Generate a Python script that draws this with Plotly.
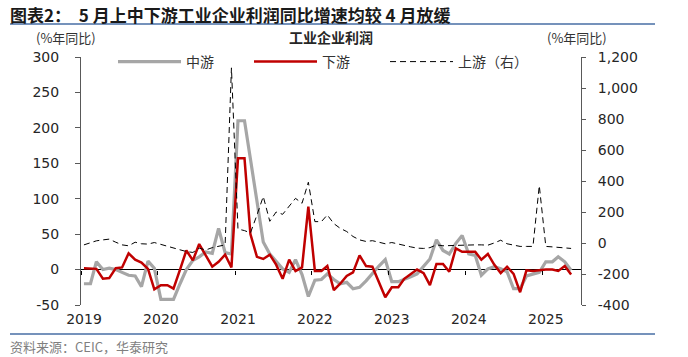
import plotly.graph_objects as go

# ---------------- data ----------------
months = [f"{y}-{m:02d}-15" for y in range(2019, 2026) for m in range(1, 13)][:77]

midstream = [-20, -20, 11, 0, 2, 0, -4, -8, -9, -24, 12, 2,
             -42, -42, -42, -20, 0, 13, 18, 25, 23, 58, 24, 22,
             210, 210, 155, 95, 39, 22, 11, 1, -4, 14, -7, -38,
             -15, -14, -6, -14, -20, -18, -27, -25, -16, -5, 5, 14,
             -17, -17, -14, -10, -6, 5, 15, 42, 27, 22, 37, 48,
             22, 20, -8, 1, 4, 1, -3, -27, -27, -9, -7, -4,
             11, 11, 18, 11, -1]

downstream = [2, 2, 1, -13, -12, 2, 3, 23, 14, 10, 1, -28,
              -22, -22, -27, 0, 27, 13, 36, 20, 4, 11, 21, 3,
              157, 157, 50, 18, 15, 21, 7, -13, 14, -2, 3, 89,
              -2, -2, 5, -29, -20, -9, -4, 20, 5, 4, -17, -39,
              -25, -25, -13, -6, 0, -5, -22, 8, 8, -3, 30, 25,
              25, 25, 14, 22, 7, -5, 4, -6, -32, -1, -2, -1,
              0, 0, -2, 5, -7]

upstream = [-12, 0, 14, 20, 25, 5, -12, -18, 5, -5, -7, 3,
            -10, -22, -35, -44, -55, -61, -33, -45, -30, -22, -12, 1130,
            90, 80, 65, 180, 300, 140, 200, 185, 240, 288, 256, 392,
            138, 138, 181, 125, 95, 74, 42, 20, 10, 15, 5, -5,
            3, -8, -15, -25, -33, -35, -30, -12, -18, -16, -15, -14,
            -13, -12, -12, -14, 0, 18, -5, -12, -22, -22, -22, 370,
            -22, -25, -27, -30, -35]

year_ticks = [f"{y}-01-01" for y in range(2019, 2026)]
year_labels = [str(y) for y in range(2019, 2026)]

left_vals = [-50, 0, 50, 100, 150, 200, 250, 300]
left_text = ["-50", "0", "50", "100", "150", "200", "250", "300"]
right_vals = [-400, -200, 0, 200, 400, 600, 800, 1000, 1200]
right_text = ["-400", "-200", "0", "200", "400", "600", "800", "1,000", "1,200"]

series_names = ["中游", "下游", "上游（右）"]
title_text = "图表2：  5 月上中下游工业企业利润同比增速均较 4 月放缓"
chart_title = "工业企业利润"
unit_text = "(%年同比)"
source_text = "资料来源：CEIC，华泰研究"

# ---------------- layout helpers ----------------
W, H = 688, 357
L, R, T, B = 81, 581, 57, 305


def px(x):
    return (x - L) / (R - L)


def py(y):
    return (B - y) / (B - T)


CJK = "Noto Sans CJK SC"
NUM = "DejaVu Sans"
AX = "#595959"

fig = go.Figure()

fig.add_trace(go.Scatter(x=months, y=midstream, name=series_names[0], mode="lines",
                         line=dict(color="#a6a6a6", width=3.2), yaxis="y"))
fig.add_trace(go.Scatter(x=months, y=downstream, name=series_names[1], mode="lines",
                         line=dict(color="#c00000", width=2.5), yaxis="y"))
fig.add_trace(go.Scatter(x=months, y=upstream, name=series_names[2], mode="lines",
                         line=dict(color="#000000", width=1, dash="6px,4px"), yaxis="y2"))
# helper trace for the year tick marks on the zero line
fig.add_trace(go.Scatter(x=year_ticks, y=[None] * len(year_ticks), xaxis="x2", yaxis="y",
                         showlegend=False, hoverinfo="skip", mode="lines"))

fig.update_layout(
    width=W, height=H,
    margin=dict(l=L, r=W - R, t=T, b=H - B, autoexpand=False),
    paper_bgcolor="white", plot_bgcolor="white",
    showlegend=True,
    legend=dict(orientation="h", x=px(113), xanchor="left", y=py(62), yanchor="middle",
                font=dict(family=CJK, size=14, color="#333333"),
                itemwidth=63, entrywidth=58, entrywidthmode="pixels",
                bgcolor="rgba(0,0,0,0)", traceorder="normal"),
    xaxis=dict(type="date", range=["2019-01-01", "2025-07-01"],
               tickvals=year_ticks, ticktext=year_labels,
               showgrid=False, showline=False, ticks="", zeroline=False,
               tickfont=dict(family=NUM, size=14, color="#262626"),
               ticklabelstandoff=4, ticklabelshift=3),
    xaxis2=dict(type="date", range=["2019-01-01", "2025-07-01"], overlaying="x",
                anchor="free", position=50 / 350, side="bottom",
                tickvals=year_ticks, showticklabels=False, ticks="outside",
                ticklen=4, tickcolor="#000000", tickwidth=1,
                showgrid=False, showline=False, zeroline=False),
    yaxis=dict(range=[-50, 300], tickvals=left_vals, ticktext=left_text,
               showgrid=False, showline=True, linecolor=AX, linewidth=1,
               ticks="outside", ticklen=5, tickcolor=AX,
               zeroline=True, zerolinecolor="#000000", zerolinewidth=1,
               tickfont=dict(family=NUM, size=14, color="#262626"),
               ticklabelstandoff=13),
    yaxis2=dict(range=[-400, 1200], overlaying="y", side="right", anchor="x",
                tickvals=right_vals, ticktext=right_text,
                showgrid=False, showline=True, linecolor=AX, linewidth=1,
                ticks="outside", ticklen=4, tickcolor=AX, zeroline=False,
                tickfont=dict(family=NUM, size=14, color="#262626"),
                ticklabelstandoff=9),
)

ann = [
    dict(text="<b>" + title_text + "</b>", x=px(8), y=py(0), xanchor="left", yanchor="top",
         font=dict(family=CJK, size=17, color="#1a1a1a")),
    dict(text="<b>" + chart_title + "</b>", x=px(330.5), y=py(37), xanchor="center", yanchor="middle",
         font=dict(family=CJK, size=14, color="#262626")),
    dict(text=unit_text, x=px(66), y=py(38), xanchor="center", yanchor="middle",
         font=dict(family=CJK, size=13, color="#333333")),
    dict(text=unit_text, x=px(577), y=py(38), xanchor="center", yanchor="middle",
         font=dict(family=CJK, size=13, color="#333333")),
    dict(text=source_text, x=px(8), y=py(346), xanchor="left", yanchor="middle",
         font=dict(family=CJK, size=13, color="#7f7f7f")),
]
for a in ann:
    a.update(xref="paper", yref="paper", showarrow=False)
fig.update_layout(annotations=ann)

fig.update_layout(shapes=[
    dict(type="line", xref="paper", yref="paper", x0=px(10), x1=px(655), y0=py(24), y1=py(24),
         line=dict(color="#7592bb", width=2)),
    dict(type="line", xref="paper", yref="paper", x0=px(10), x1=px(655), y0=py(334), y1=py(334),
         line=dict(color="#7592bb", width=2)),
])

fig.write_html("out.html", config={"displayModeBar": False},
               post_script="document.body.style.margin='0';")
